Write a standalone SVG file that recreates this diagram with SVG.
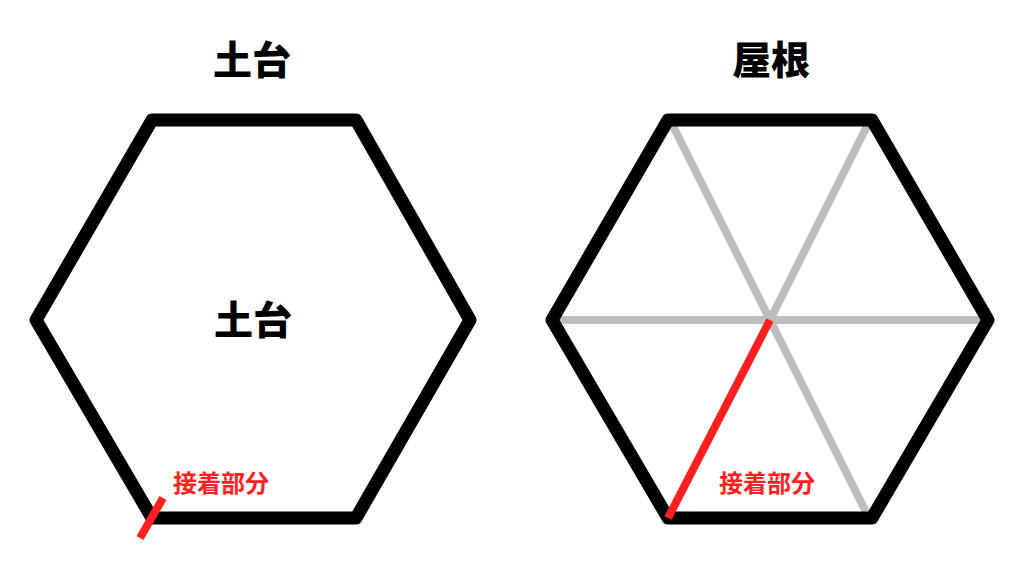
<svg xmlns="http://www.w3.org/2000/svg" width="1024" height="563" viewBox="0 0 1024 563">
<style>
.hex{fill:none;stroke:#000;stroke-width:13;stroke-linejoin:round}
.spoke{stroke:#bdbdbd;stroke-width:8}
.red{stroke:#ff1f1f;stroke-width:8}
.title{font-family:"Noto Sans CJK JP",sans-serif;font-weight:900;font-size:39px;fill:#000;text-anchor:middle}
.lab{font-family:"Noto Sans CJK JP",sans-serif;font-weight:bold;font-size:24px;fill:#ff1f1f;text-anchor:middle}
</style>
<rect width="1024" height="563" fill="#fff"/>
<g id="left-title"><text class="title" x="252" y="74">土台</text></g>
<g id="right-title"><text class="title" x="771" y="74">屋根</text></g>
<g id="left-hex">
<polygon class="hex" points="152,120 356,120 470,320 356,518 152,518 36,320"/>
<text class="title" x="253" y="334">土台</text>
</g>
<g id="right-hex">
<g class="spoke">
<line x1="770" y1="320" x2="672" y2="124"/>
<line x1="770" y1="320" x2="868" y2="124"/>
<line x1="770" y1="320" x2="554" y2="320"/>
<line x1="770" y1="320" x2="987" y2="320"/>
<line x1="770" y1="320" x2="868" y2="516"/>
</g>
<polygon class="hex" points="668,120 872,120 988,320 872,518 668,518 552,320"/>
</g>
<g id="connectors">
<line class="red" x1="163" y1="498" x2="140" y2="538"/>
<line class="red" x1="770" y1="320" x2="668" y2="518"/>
</g>
<g id="left-label"><text class="lab" x="221" y="492">接着部分</text></g>
<g id="right-label"><text class="lab" x="767" y="492">接着部分</text></g>
</svg>
